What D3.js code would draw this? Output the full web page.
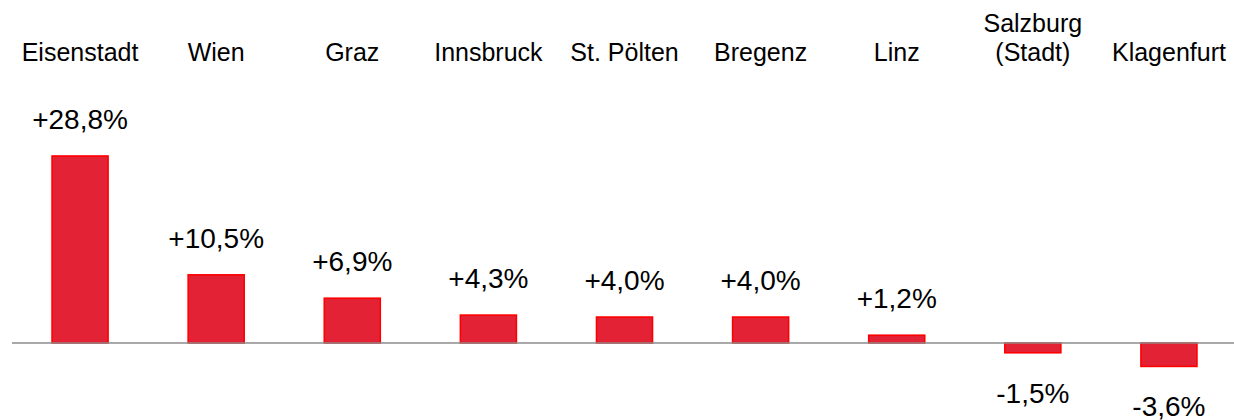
<!DOCTYPE html>
<html>
<head>
<meta charset="utf-8">
<script src="https://cdn.jsdelivr.net/npm/d3@7"></script>
<style>
  html, body { margin: 0; padding: 0; background: #fff; }
  svg { display: block; font-family: Arial, "Liberation Sans", sans-serif; }
</style>
</head>
<body>
<svg id="chart" width="1234" height="420"></svg>
<script>
const categories = ["Eisenstadt", "Wien", "Graz", "Innsbruck", "St. Pölten", "Bregenz", "Linz", "Salzburg\n(Stadt)", "Klagenfurt"];
const values = [28.8, 10.5, 6.9, 4.3, 4.0, 4.0, 1.2, -1.5, -3.6];
const valueLabels = ["+28,8%", "+10,5%", "+6,9%", "+4,3%", "+4,0%", "+4,0%", "+1,2%", "-1,5%", "-3,6%"];

const W = 1234, H = 420;
const svg = d3.select("#chart");

const x = d3.scaleBand()
  .domain(categories)
  .range([12, 1237])
  .paddingInner(0)
  .paddingOuter(0);

const y = d3.scaleLinear()
  .domain([-3.6, 28.8])
  .range([366.4, 156]);

const barW = 56;

// bars
svg.append("g").selectAll("rect")
  .data(values)
  .join("rect")
  .attr("x", (d, i) => x(categories[i]) + x.bandwidth() / 2 - barW / 2)
  .attr("y", d => Math.min(y(d), y(0)))
  .attr("width", barW)
  .attr("height", d => Math.abs(y(d) - y(0)))
  .attr("fill", "#E32236")
  .attr("stroke", "#FF0000")
  .attr("stroke-width", 1.6);

// baseline
svg.append("line")
  .attr("x1", 12).attr("x2", W)
  .attr("y1", y(0)).attr("y2", y(0))
  .attr("stroke", "#8c8c8c")
  .attr("stroke-width", 1.3);

// value labels
svg.append("g").selectAll("text")
  .data(values)
  .join("text")
  .attr("x", (d, i) => x(categories[i]) + x.bandwidth() / 2)
  .attr("y", d => d >= 0 ? y(d) - 27 : y(d) + 50)
  .attr("text-anchor", "middle")
  .attr("font-size", 28)
  .attr("fill", "#000")
  .text((d, i) => valueLabels[i]);

// category labels
const catG = svg.append("g");
categories.forEach((c, i) => {
  const lines = c.split("\n");
  const t = catG.append("text")
    .attr("text-anchor", "middle")
    .attr("font-size", 25)
    .attr("fill", "#000");
  lines.forEach((ln, j) => {
    t.append("tspan")
      .attr("x", x(c) + x.bandwidth() / 2)
      .attr("y", 61 - (lines.length - 1 - j) * 29)
      .text(ln);
  });
});
</script>
</body>
</html>
